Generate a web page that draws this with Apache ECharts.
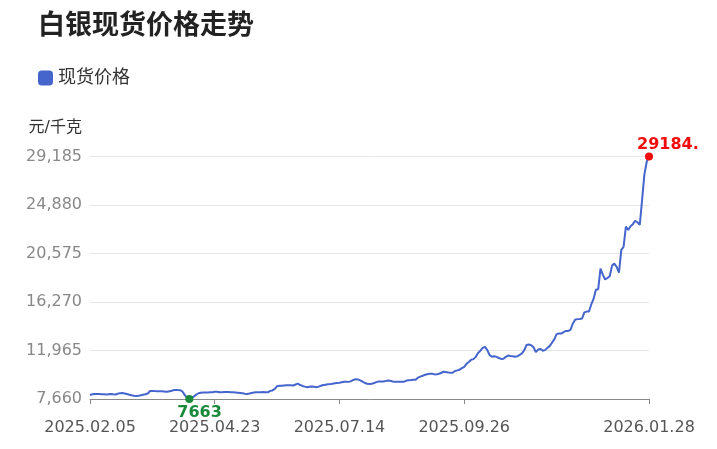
<!DOCTYPE html>
<html><head><meta charset="utf-8">
<script src="https://cdn.jsdelivr.net/npm/echarts@6/dist/echarts.min.js"></script>
<style>html,body{margin:0;padding:0;background:#fff}#c{width:700px;height:449px}</style>
</head><body><div id="c"></div>
<script>
// ---- data ----
const seriesName = '现货价格';
const firstDay = '2025.02.05';
const lastDay = '2026.01.28';
// exchange holidays (weekdays without trading) in the period
const holidays = ['2025.04.04','2025.05.01','2025.05.02','2025.05.05','2025.06.02',
  '2025.10.01','2025.10.02','2025.10.03','2025.10.06','2025.10.07','2025.10.08',
  '2026.01.01','2026.01.02'];
// x-axis labels shown
const xLabelDates = ['2025.02.05','2025.04.23','2025.07.14','2025.09.26','2026.01.28'];
// y-axis tick labels
const yTickValues = [7660, 11965, 16270, 20575, 24880, 29185];
// spot price, yuan / kg, one per trading day
const spotPrice = [
  8020,8080,8100,8110,8100,8090,8080,8070,8090,8110,
  8080,8060,8130,8180,8190,8150,8100,8040,7990,7950,
  7930,7950,7990,8040,8080,8150,8370,8380,8360,8350,
  8350,8340,8320,8300,8330,8360,8440,8470,8450,8440,
  8330,8030,7760,7663,7780,7880,8050,8170,8210,8230,
  8230,8240,8250,8260,8310,8300,8260,8270,8280,8290,
  8280,8270,8260,8240,8220,8200,8180,8130,8110,8150,
  8200,8240,8260,8270,8270,8280,8260,8250,8380,8420,
  8560,8800,8830,8840,8860,8870,8880,8870,8860,8950,
  9020,8900,8820,8760,8710,8740,8770,8740,8710,8760,
  8830,8900,8930,8960,8980,9020,9050,9070,9100,9150,
  9185,9190,9180,9250,9350,9420,9400,9310,9200,9080,
  9010,9000,9010,9080,9160,9210,9220,9215,9250,9300,
  9280,9220,9200,9185,9190,9185,9200,9300,9330,9340,
  9360,9370,9560,9650,9720,9813,9860,9900,9910,9860,
  9843,9900,9963,10082,10050,10022,9980,9990,10142,10200,
  10261,10400,10520,10780,10950,11150,11200,11400,11750,11950,
  12200,12280,12000,11550,11420,11450,11400,11300,11220,11240,
  11400,11520,11470,11450,11420,11450,11580,11700,12000,12450,
  12500,12440,12250,11820,12050,12100,11950,12000,12200,12350,
  12650,12950,13420,13480,13470,13600,13700,13700,13800,14350,
  14700,14750,14760,14800,15350,15420,15430,16050,16540,17350,
  17400,19230,18700,18270,18400,18560,19500,19680,19380,18870,
  20870,21180,22970,22670,23000,23180,23475,23350,23120,25300,
  27600,28700,29184.5
];

// ---- trading-day categories ----
function fmt(d){
  const p = n => String(n).padStart(2,'0');
  return d.getUTCFullYear()+'.'+p(d.getUTCMonth()+1)+'.'+p(d.getUTCDate());
}
function parse(s){ const [y,m,d]=s.split('.').map(Number); return new Date(Date.UTC(y,m-1,d)); }
const dates = [];
for (let d = parse(firstDay); d.getTime() <= parse(lastDay).getTime(); d.setUTCDate(d.getUTCDate()+1)) {
  const wd = d.getUTCDay(); const s = fmt(d);
  if (wd !== 0 && wd !== 6 && !holidays.includes(s)) dates.push(s);
}

const FONT = '"DejaVu Sans", "Noto Sans CJK SC", sans-serif';
const chart = echarts.init(document.getElementById('c'));
const showX = (i, v) => xLabelDates.includes(v);
chart.setOption({
  animation: false,
  backgroundColor: '#fff',
  textStyle: { fontFamily: FONT },
  title: {
    text: '白银现货价格走势', left: 38, top: 13, padding: 0,
    textStyle: { fontSize: 27, fontWeight: 'bold', color: '#222', fontFamily: FONT }
  },
  legend: {
    data: [seriesName], left: 38, top: 69, padding: 0,
    icon: 'roundRect', itemWidth: 15, itemHeight: 15,
    textStyle: { fontSize: 18, color: '#333', fontFamily: FONT }
  },
  grid: { left: 90, right: 51, top: 156.5, bottom: 50 },
  xAxis: {
    type: 'category', data: dates, boundaryGap: false,
    axisLine: { lineStyle: { color: '#888' } },
    axisTick: { interval: showX, length: 5, lineStyle: { color: '#888' } },
    axisLabel: { interval: showX, color: '#555', fontSize: 16, margin: 21, fontFamily: FONT },
    splitLine: { show: false }
  },
  yAxis: {
    type: 'value',
    min: yTickValues[0], max: yTickValues[yTickValues.length-1],
    interval: yTickValues[1]-yTickValues[0],
    name: '元/千克', nameLocation: 'end', nameGap: 21,
    nameTextStyle: { fontSize: 16, color: '#333', align: 'right', padding: [0, 8, 0, 0], fontFamily: FONT },
    axisLine: { show: false }, axisTick: { show: false },
    axisLabel: { color: '#888', fontSize: 16, margin: 8, fontFamily: FONT },
    splitLine: { lineStyle: { color: '#e6e6e6' } }
  },
  series: [{
    name: seriesName, type: 'line', data: spotPrice,
    showSymbol: false, smooth: false,
    itemStyle: { color: '#4565cc' },
    lineStyle: { color: '#4565cc', width: 2 },
    markPoint: {
      symbol: 'circle', symbolSize: 8,
      data: [
        { type: 'max', itemStyle: { color: '#f20d0d' },
          label: { show: true, position: 'top', distance: 0, align: 'left', offset: [-12, 0],
                   color: '#f20d0d', fontSize: 16, fontWeight: 'bold', fontFamily: FONT,
                   formatter: p => String(p.value) } },
        { type: 'min', itemStyle: { color: '#1a8a3a' },
          label: { show: true, position: 'bottom', distance: 2, align: 'left', offset: [-12, 0],
                   color: '#1a8a3a', fontSize: 16, fontWeight: 'bold', fontFamily: FONT,
                   formatter: p => String(p.value) } }
      ]
    }
  }]
});
</script>
</body></html>
